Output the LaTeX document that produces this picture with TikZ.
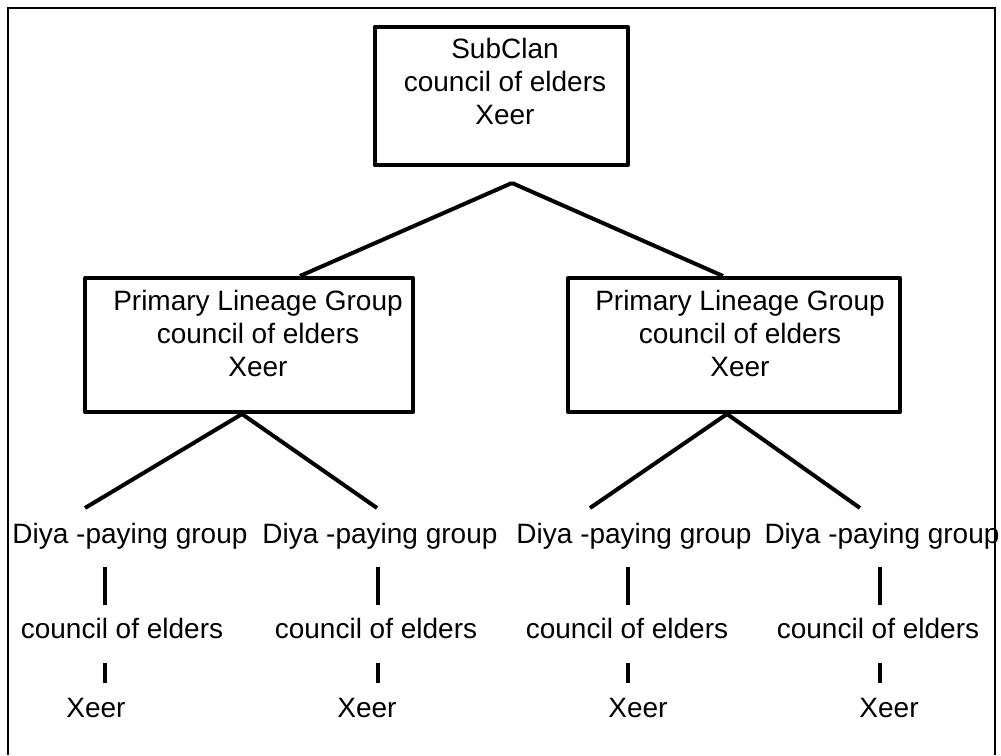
\documentclass[tikz,border=0pt]{standalone}
\usepackage{fontspec}
\setmainfont{Liberation Sans}
\usetikzlibrary{positioning}
\tikzset{box/.style={draw,line width=4pt,line join=round},
         txt/.style={inner sep=0pt,align=center,font=\fontsize{28}{33}\selectfont},
         link/.style={line width=4pt}}

\begin{document}
\begin{tikzpicture}[x=1pt,y=-1pt]
\useasboundingbox (0,0) rectangle (1001,755);
\draw[line width=2pt] (8,755) -- (8,8) -- (995,8) -- (995,755);
% the three boxes
\node[box,minimum width=253pt,minimum height=138pt] (sub) at (501,96) {};
\node[txt] (subtxt) at (505,81) {SubClan\\council of elders\\Xeer};
\node[box,minimum width=328pt,minimum height=134pt] (plg1) at (249,345) {};
\node[txt] (plgtxt1) at (258,333) {Primary Lineage Group\\council of elders\\Xeer};
\node[box,minimum width=332pt,minimum height=134pt] (plg2) at (734,345) {};
\node[txt] (plgtxt2) at (740,333) {Primary Lineage Group\\council of elders\\Xeer};
\coordinate (apex) at (512,183);
\path[link] (apex) edge (plg1.north -| 300,0)
            (apex) edge (plg2.north -| 723,0);
% the four diya-paying groups
\foreach \i/\dx/\bx/\cx/\xx in {1/130/105/122/96, 2/380/378/376/367,
                                3/634/628/627/638, 4/882/880/878/889}{
  \node[txt,anchor=base] (diya\i) at (\dx,543) {Diya -paying group};
  \node[txt,anchor=base] (coe\i) at (\cx,638) {council of elders};
  \node[txt,anchor=base] (xeer\i) at (\xx,717) {Xeer};
  \coordinate (ba\i) at (\bx,567);
  \coordinate (bb\i) at (\bx,605);
  \coordinate (bc\i) at (\bx,663);
  \coordinate (bd\i) at (\bx,683);
  \path[link] (ba\i) edge (bb\i)
              (bc\i) edge (bd\i);
}
\coordinate (e1) at (85,508);
\coordinate (e2) at (377,508);
\coordinate (e3) at (590,508);
\coordinate (e4) at (860,508);
\path[link] (plg1.south -| 242,0) edge (e1)
            (plg1.south -| 242,0) edge (e2)
            (plg2.south -| 727,0) edge (e3)
            (plg2.south -| 727,0) edge (e4);
\end{tikzpicture}
\end{document}
